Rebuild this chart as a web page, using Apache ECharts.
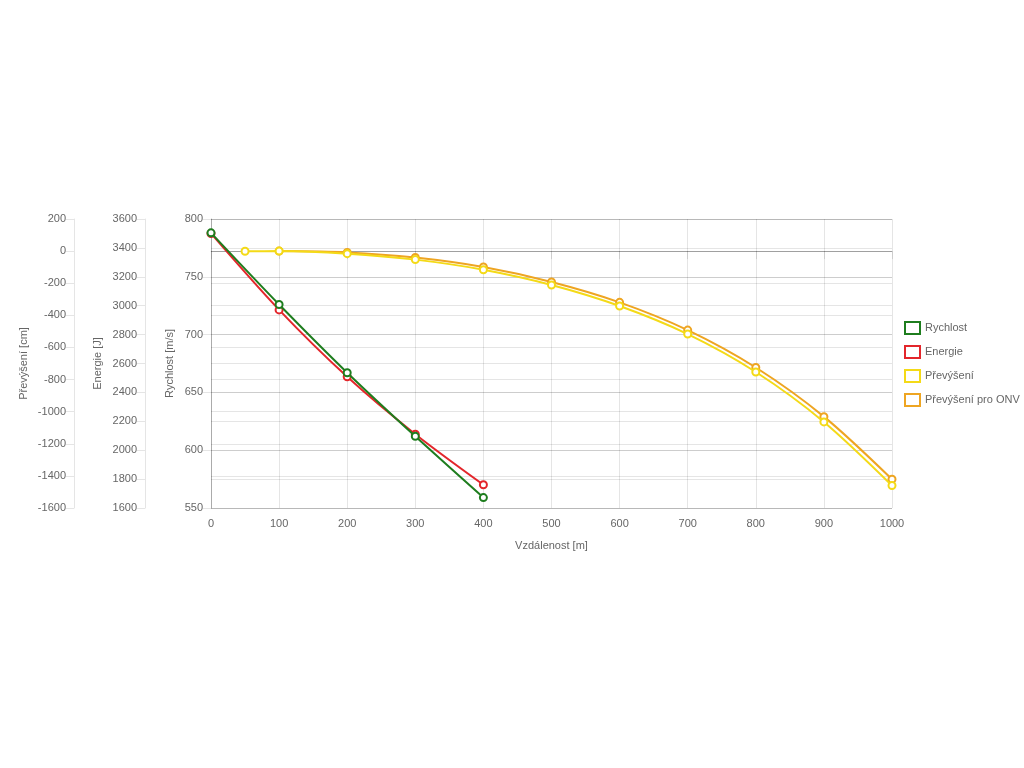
<!DOCTYPE html>
<html>
<head>
<meta charset="utf-8">
<script src="https://cdn.jsdelivr.net/npm/echarts@6/dist/echarts.min.js"></script>
<style>
html,body{margin:0;padding:0;background:#fff;}
#chart{width:1024px;height:768px;}
</style>
</head>
<body>
<div id="chart"></div>
<script>
// Data
const seriesNames = ['Rychlost', 'Energie', 'Převýšení', 'Převýšení pro ONV'];
const distBallistic = [0, 100, 200, 300, 400];
const rychlost = [788, 726, 667, 612, 559];
const energie = [3500, 2971, 2508, 2111, 1761];
const distPrevyseni = [50, 100, 200, 300, 400, 500, 600, 700, 800, 900, 1000];
const prevyseni = [-1, 0, -16, -53, -116, -211, -342, -517, -753, -1064, -1460];
const distOnv = [100, 200, 300, 400, 500, 600, 700, 800, 900, 1000];
const prevyseniOnv = [0, -8, -40, -99, -192, -319, -492, -725, -1031, -1421];
const xTicks = {min: 0, max: 1000, interval: 100};

const colors = {
  'Rychlost': '#1e7d1e',
  'Energie': '#e3262b',
  'Převýšení': '#f4da17',
  'Převýšení pro ONV': '#eea522'
};

function pairs(xs, ys) { return xs.map((x, i) => [x, ys[i]]); }

const FONT = 'Liberation Sans, Arial, Helvetica, sans-serif';
const FS = 11;
const TXT = '#666';
const GRID = 'rgba(0,0,0,0.1)';
const plain = v => String(v);

function lineSeries(name, data, yIdx, z) {
  return {
    name: name,
    type: 'line',
    yAxisIndex: yIdx,
    data: data,
    smooth: 0.3,
    z: z,
    symbol: 'circle',
    symbolSize: 7,
    showSymbol: true,
    lineStyle: {color: colors[name], width: 2},
    itemStyle: {color: '#fff', borderColor: colors[name], borderWidth: 2},
    emphasis: {disabled: true}
  };
}

function yAxisCfg(name, min, max, interval, offset, nameGap, lineColor) {
  return {
    type: 'value',
    position: 'left',
    offset: offset,
    min: min, max: max, interval: interval,
    name: name,
    nameLocation: 'middle',
    nameRotate: 90,
    nameGap: nameGap,
    nameMoveOverlap: false,
    nameTextStyle: {color: TXT, fontSize: FS, fontFamily: FONT},
    axisLine: {show: true, lineStyle: {color: lineColor, width: 1}},
    axisTick: {show: true, length: 8, lineStyle: {color: GRID}},
    axisLabel: {color: TXT, fontSize: FS, fontFamily: FONT, margin: 8, formatter: plain},
    splitLine: {show: true, lineStyle: {color: GRID, width: 1}}
  };
}

const chart = echarts.init(document.getElementById('chart'));
const option = {
  animation: false,
  backgroundColor: '#fff',
  grid: {left: 211, right: 132, top: 219, bottom: 260, containLabel: false},
  legend: {
    orient: 'vertical',
    left: 904,
    top: 321,
    padding: 0,
    itemWidth: 15,
    itemHeight: 12,
    itemGap: 10,
    icon: 'rect',
    textStyle: {color: TXT, fontSize: FS, fontFamily: FONT},
    data: seriesNames.map(n => ({
      name: n,
      itemStyle: {color: '#fff', borderColor: colors[n], borderWidth: 2}
    }))
  },
  xAxis: {
    type: 'value',
    min: xTicks.min, max: xTicks.max, interval: xTicks.interval,
    name: 'Vzdálenost [m]',
    nameLocation: 'middle',
    nameGap: 32,
    nameTextStyle: {color: TXT, fontSize: FS, fontFamily: FONT},
    axisLine: {show: true, lineStyle: {color: GRID}},
    axisTick: {show: true, length: 8, lineStyle: {color: GRID}},
    axisLabel: {color: TXT, fontSize: FS, fontFamily: FONT, margin: 10, formatter: plain},
    splitLine: {show: true, lineStyle: {color: GRID, width: 1}}
  },
  yAxis: [
    yAxisCfg('Rychlost [m/s]', 550, 800, 50, 0, 36, 'rgba(0,0,0,0.25)'),
    yAxisCfg('Energie [J]', 1600, 3600, 200, 66, 42, GRID),
    yAxisCfg('Převýšení [cm]', -1600, 200, 200, 137, 45, GRID)
  ],
  series: [
    Object.assign(lineSeries('Převýšení pro ONV', pairs(distOnv, prevyseniOnv), 2, 2), {
      markLine: {
        silent: true,
        symbol: 'none',
        label: {show: false},
        lineStyle: {color: 'rgba(0,0,0,0.22)', width: 1, type: 'solid'},
        data: [{yAxis: 0}],
        z: 1
      }
    }),
    lineSeries('Převýšení', pairs(distPrevyseni, prevyseni), 2, 3),
    lineSeries('Energie', pairs(distBallistic, energie), 1, 4),
    lineSeries('Rychlost', pairs(distBallistic, rychlost), 0, 5)
  ]
};
chart.setOption(option);
</script>
</body>
</html>
